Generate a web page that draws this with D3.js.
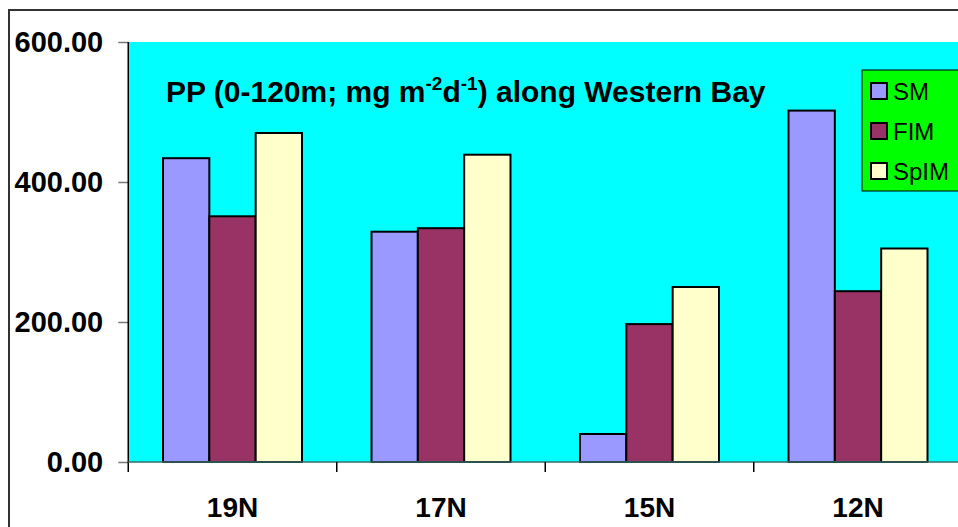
<!DOCTYPE html>
<html lang="en">
<head>
  <meta charset="UTF-8">
  <title>PP along Western Bay</title>
  <script src="https://d3js.org/d3.v7.min.js"></script>
  <style>
    body { margin: 0; background: #fff; }
    svg { display: block; font-family: "Liberation Sans", Arial, sans-serif; }
  </style>
</head>
<body>
  <div class="canvas"></div>
  <script>
    const stations = ['19N', '17N', '15N', '12N'];
    const seriesNames = ['SM', 'FIM', 'SpIM'];
    const smValues = [434, 329, 40, 502];
    const fimValues = [351, 334, 197, 244];
    const spimValues = [470, 439, 250, 305];
    const yTicks = [0, 200, 400, 600];
    const colors = ['#9999ff', '#993366', '#ffffcc'];

    const width = 958;
    const height = 527;
    const [mt, mb, ml, mr] = [42, 65, 128.25, -4.25];

    const svg = d3.select('.canvas')
                    .append('svg')
                    .attr('width', width)
                    .attr('height', height);

    // outer chart frame
    svg.append('rect')
      .attr('x', 9).attr('y', 10)
      .attr('width', width + 20).attr('height', height + 20)
      .attr('fill', '#fff')
      .attr('stroke', '#333')
      .attr('stroke-width', 2);

    const x = d3.scaleBand()
                  .domain(stations)
                  .range([ml, width - mr]);

    const xs = d3.scaleBand()
                  .domain(seriesNames)
                  .range([0, x.bandwidth()])
                  .paddingInner(0)
                  .paddingOuter(0.75);

    const y = d3.scaleLinear()
                  .domain([0, 600])
                  .range([height - mb, mt]);

    const color = d3.scaleOrdinal().domain(seriesNames).range(colors);

    // plot area
    svg.append('rect')
      .attr('x', ml).attr('y', mt)
      .attr('width', width - mr - ml).attr('height', y(0) - mt)
      .attr('fill', '#00ffff');

    const rows = stations.map((s, i) => ({
      station: s,
      values: [smValues[i], fimValues[i], spimValues[i]]
    }));

    const groups = svg.selectAll('g.station')
      .data(rows)
      .enter()
      .append('g')
      .attr('class', 'station')
      .attr('transform', d => `translate(${x(d.station)}, 0)`);

    groups.selectAll('rect')
      .data(d => d.values.map((v, j) => ({ name: seriesNames[j], value: v })))
      .enter()
      .append('rect')
      .attr('x', d => xs(d.name))
      .attr('y', d => y(d.value))
      .attr('width', xs.bandwidth())
      .attr('height', d => y(0) - y(d.value))
      .attr('fill', d => color(d.name))
      .attr('stroke', '#000')
      .attr('stroke-width', 2);

    // y axis
    const yAxis = svg.append('g')
      .attr('transform', `translate(${ml}, 0)`)
      .call(d3.axisLeft(y).tickValues(yTicks).tickFormat(d3.format('.2f')).tickSize(10).tickPadding(15));
    yAxis.select('.domain').remove();
    yAxis.selectAll('.tick line').attr('stroke', '#777').attr('stroke-width', 1.5);
    yAxis.selectAll('.tick text')
      .attr('fill', '#000')
      .style('font-size', '29px')
      .style('font-weight', 'bold')
      .style('font-family', '"Liberation Sans", Arial, sans-serif');

    // vertical axis line
    svg.append('line')
      .attr('x1', ml).attr('x2', ml)
      .attr('y1', mt).attr('y2', y(0) + 10)
      .attr('stroke', '#000').attr('stroke-width', 1.5);

    // category axis
    svg.append('line')
      .attr('x1', ml).attr('x2', width)
      .attr('y1', y(0)).attr('y2', y(0))
      .attr('stroke', '#3d6b6b').attr('stroke-width', 1.5);

    svg.selectAll('line.xtick')
      .data(stations.slice(1))
      .enter()
      .append('line')
      .attr('class', 'xtick')
      .attr('x1', d => x(d)).attr('x2', d => x(d))
      .attr('y1', y(0)).attr('y2', y(0) + 10)
      .attr('stroke', '#000').attr('stroke-width', 1.5);

    svg.selectAll('text.xlabel')
      .data(stations)
      .enter()
      .append('text')
      .attr('class', 'xlabel')
      .attr('x', d => x(d) + x.bandwidth() / 2)
      .attr('y', 517)
      .attr('text-anchor', 'middle')
      .style('font-size', '28px')
      .style('font-weight', 'bold')
      .text(d => d);

    // title
    const title = svg.append('text')
      .attr('x', 166).attr('y', 102)
      .style('font-size', '30px')
      .style('font-weight', 'bold');
    title.append('tspan').text('PP (0-120m; mg m');
    title.append('tspan').attr('dy', -12).style('font-size', '19px').text('-2');
    title.append('tspan').attr('dy', 12).text('d');
    title.append('tspan').attr('dy', -12).style('font-size', '19px').text('-1');
    title.append('tspan').attr('dy', 12).text(') along Western Bay');

    // legend
    const legend = svg.append('g').attr('transform', 'translate(862, 70)');
    legend.append('rect')
      .attr('width', 110).attr('height', 121)
      .attr('fill', '#00ff00')
      .attr('stroke', '#000').attr('stroke-width', 1);

    const item = legend.selectAll('g.item')
      .data(seriesNames)
      .enter()
      .append('g')
      .attr('class', 'item')
      .attr('transform', (d, i) => `translate(0, ${21 + i * 40})`);

    item.append('rect')
      .attr('x', 9).attr('y', -8)
      .attr('width', 16).attr('height', 16)
      .attr('fill', d => color(d))
      .attr('stroke', '#000').attr('stroke-width', 2);

    item.append('text')
      .attr('x', 31).attr('y', 9)
      .style('font-size', '24px')
      .text(d => d);
  </script>
</body>
</html>
